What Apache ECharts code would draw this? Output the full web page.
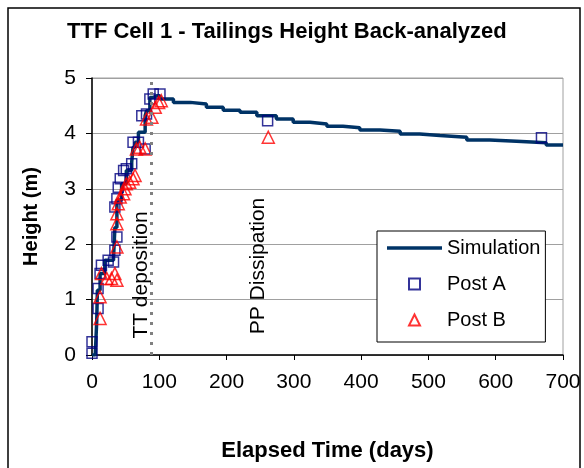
<!DOCTYPE html>
<html>
<head>
<meta charset="utf-8">
<script src="https://cdn.jsdelivr.net/npm/echarts@6/dist/echarts.min.js"></script>
<style>
  html, body { margin: 0; padding: 0; background: #fff; }
  #chart { width: 584px; height: 468px; }
</style>
</head>
<body>
<div id="chart"></div>
<script>
// ---- data ----
const titleText = 'TTF Cell 1 - Tailings Height Back-analyzed';
const xAxisName = 'Elapsed Time (days)';
const yAxisName = 'Height (m)';
const xTickValues = [0, 100, 200, 300, 400, 500, 600, 700];
const yTickValues = [0, 1, 2, 3, 4, 5];

const simDays   = [0, 5, 7, 8, 12, 19, 32, 34, 37, 44, 51, 59, 61, 64, 69, 76, 79, 81, 86, 91, 97, 101, 121, 146, 170, 195, 220, 245, 274, 299, 324, 349, 373, 398, 428, 458, 487, 517, 557, 591, 631, 675, 700];
const simHeight = [0, 0.05, 0.6, 1.17, 1.47, 1.71, 1.75, 2.3, 2.8, 3.09, 3.33, 3.48, 3.75, 3.84, 4.02, 4.02, 4.32, 4.41, 4.65, 4.68, 4.68, 4.62, 4.56, 4.53, 4.47, 4.42, 4.38, 4.32, 4.26, 4.20, 4.17, 4.13, 4.10, 4.06, 4.04, 3.99, 3.96, 3.93, 3.88, 3.86, 3.83, 3.79, 3.78];

const postADays   = [0, 0, 9, 9, 12, 14, 24, 32, 34, 37, 34, 37, 39, 42, 47, 51, 59, 61, 69, 79, 74, 81, 86, 91, 101, 261, 668];
const postAHeight = [0.24, 0.03, 0.84, 1.2, 1.47, 1.62, 1.71, 1.68, 1.89, 2.13, 2.67, 2.82, 3.03, 3.18, 3.33, 3.36, 3.45, 3.84, 3.84, 3.72, 4.32, 4.35, 4.62, 4.71, 4.71, 4.23, 3.92];

const postBDays   = [12, 12, 14, 22, 29, 34, 37, 37, 37, 37, 39, 42, 47, 49, 51, 56, 61, 64, 66, 71, 79, 81, 89, 94, 99, 103, 262];
const postBHeight = [0.66, 1.05, 1.47, 1.38, 1.38, 1.47, 1.35, 1.95, 2.37, 2.55, 2.73, 2.85, 2.91, 3.0, 3.09, 3.12, 3.18, 3.24, 3.72, 3.75, 3.72, 4.26, 4.29, 4.47, 4.56, 4.59, 3.93];

const depositionEndDay = 88;
const annotationTT = 'TT deposition';
const annotationPP = 'PP Dissipation';
const seriesNames = ['Simulation', 'Post A', 'Post B'];

// ---- chart ----
const FONT = '"Liberation Sans", Arial, sans-serif';
const pair = (xs, ys) => xs.map((x, i) => [x, ys[i]]);

const chart = echarts.init(document.getElementById('chart'), null, { renderer: 'canvas' });
chart.setOption({
  animation: false,
  backgroundColor: '#ffffff',
  title: {
    text: titleText,
    left: 67, top: 21, padding: 0,
    textStyle: { fontFamily: FONT, fontSize: 22, fontWeight: 'bold', color: '#000' }
  },
  grid: {
    left: 92, right: 21, top: 78, bottom: 113,
    show: true, borderColor: '#a0a0a0', borderWidth: 1, backgroundColor: 'transparent'
  },
  xAxis: {
    type: 'value', min: 0, max: 700, interval: 100,
    name: xAxisName, nameLocation: 'middle', nameGap: 85,
    nameTextStyle: { fontFamily: FONT, fontSize: 22, fontWeight: 'bold', color: '#000' },
    axisLine: { show: true, onZero: false, lineStyle: { color: '#000', width: 1.5 } },
    axisTick: { show: true, length: 5, lineStyle: { color: '#000', width: 1 } },
    axisLabel: {
      margin: 17, fontFamily: FONT, fontSize: 21, color: '#000',
      formatter: v => xTickValues.includes(v) ? String(v) : ''
    },
    splitLine: { show: false }
  },
  yAxis: {
    type: 'value', min: 0, max: 5, interval: 1,
    name: yAxisName, nameLocation: 'middle', nameGap: 51, nameRotate: 90,
    nameTextStyle: { fontFamily: FONT, fontSize: 20, fontWeight: 'bold', color: '#000' },
    axisLine: { show: true, onZero: false, lineStyle: { color: '#000', width: 1.5 } },
    axisTick: { show: true, length: 6, lineStyle: { color: '#000', width: 1 } },
    axisLabel: {
      margin: 16, fontFamily: FONT, fontSize: 21, color: '#000',
      formatter: v => yTickValues.includes(v) ? String(v) : ''
    },
    splitLine: { show: true, lineStyle: { color: '#a0a0a0', width: 1 } }
  },
  legend: {
    orient: 'vertical',
    left: 377, top: 231,
    padding: [7, 5, 12, 10],
    itemGap: 16,
    itemWidth: 55, itemHeight: 11,
    backgroundColor: '#ffffff',
    borderColor: '#000', borderWidth: 1, borderRadius: 0,
    textStyle: { fontFamily: FONT, fontSize: 20, color: '#000', lineHeight: 20 },
    data: [
      { name: seriesNames[0], icon: 'path://M0,0L55,0L55,3.5L0,3.5Z', itemStyle: { color: '#003366' } },
      { name: seriesNames[1], icon: 'path://M0,0L10,0L10,10L0,10Z' },
      { name: seriesNames[2], icon: 'path://M5,0L10,10L0,10Z' }
    ]
  },
  series: [
    {
      name: seriesNames[0], type: 'line', step: 'end',
      data: pair(simDays, simHeight),
      showSymbol: false, symbol: 'none',
      lineStyle: { color: '#003366', width: 3.5 },
      itemStyle: { color: '#003366' },
      z: 2,
      markLine: {
        silent: true, symbol: 'none',
        label: { show: false },
        lineStyle: { color: '#808080', width: 3, type: [3, 7] },
        data: [[{ coord: [depositionEndDay, 0] }, { coord: [depositionEndDay, 5] }]]
      }
    },
    {
      name: seriesNames[1], type: 'scatter',
      data: pair(postADays, postAHeight),
      symbol: 'rect', symbolSize: 10,
      itemStyle: { color: 'rgba(255,255,255,0)', borderColor: '#000080', borderWidth: 1.5 },
      z: 3
    },
    {
      name: seriesNames[2], type: 'scatter',
      data: pair(postBDays, postBHeight),
      symbol: 'triangle', symbolSize: 12,
      itemStyle: { color: 'rgba(255,255,255,0)', borderColor: '#ff0000', borderWidth: 1.5 },
      z: 4
    }
  ],
  graphic: [
    {
      type: 'rect', silent: true, z: -10,
      shape: { x: 8, y: 8, width: 572, height: 480 },
      style: { fill: 'transparent', stroke: '#000', lineWidth: 1.5 }
    },
    {
      type: 'text', x: 141, y: 275, rotation: Math.PI / 2, z: 10,
      style: { text: annotationTT, font: '21px ' + FONT, fill: '#000', align: 'center', verticalAlign: 'middle' }
    },
    {
      type: 'text', x: 258, y: 266, rotation: Math.PI / 2, z: 10,
      style: { text: annotationPP, font: '21px ' + FONT, fill: '#000', align: 'center', verticalAlign: 'middle' }
    }
  ]
});
</script>
</body>
</html>
